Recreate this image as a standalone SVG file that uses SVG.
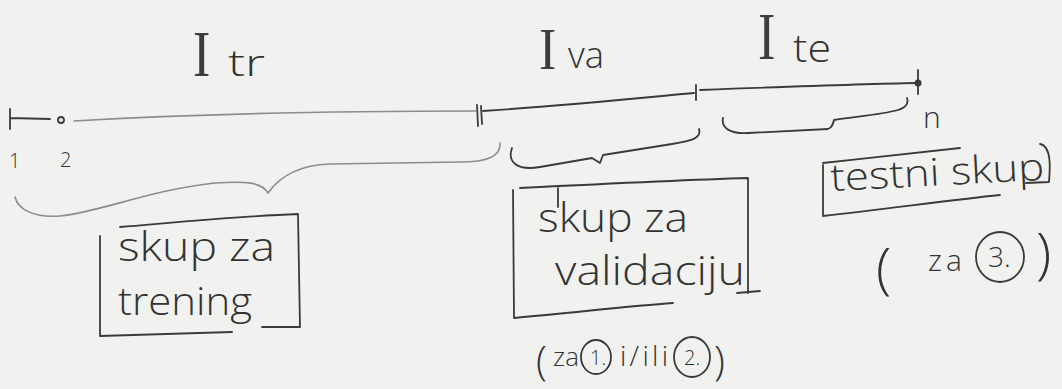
<svg xmlns="http://www.w3.org/2000/svg" width="1062" height="389" viewBox="0 0 1062 389">
  <style>
    .ink { fill: none; stroke: #3a3a3a; stroke-width: 1.8; stroke-linecap: round; stroke-linejoin: round; }
    .pencil { fill: none; stroke: #8c8c8c; stroke-width: 1.6; stroke-linecap: round; stroke-linejoin: round; }
    .hand { font-family: "Open Sans", "Liberation Sans", "DejaVu Sans", sans-serif; font-weight: 300; fill: #333333; }
    .big { font-family: "Liberation Serif", "DejaVu Serif", serif; fill: #3d3d3d; }
  </style>
  <!-- paper -->
  <rect width="1062" height="389" fill="#f1f1ef"/>

  <!-- the index axis 1 .. n split into three intervals -->
  <g id="axis">
    <path class="ink" d="M10,109 L10,129 M10,118 L50,119"/>
    <circle cx="61" cy="120" r="3" class="ink"/>
    <path class="pencil" d="M74,121 C160,116 300,111 476,111"/>
    <path class="ink" d="M477,105 L478,126 M481,106 L482,124"/>
    <path class="ink" d="M483,111 C560,106 640,98 694,93"/>
    <path class="ink" d="M696,85 L696,100"/>
    <path class="ink" d="M700,90 C780,87 860,84 916,83"/>
    <path class="ink" d="M918,70 L918,94"/>
    <circle cx="918" cy="83" r="3.5" fill="#3a3a3a"/>
    <text class="hand" x="9" y="168" font-size="20">1</text>
    <text class="hand" x="60" y="167" font-size="20">2</text>
    <text class="hand" x="923" y="128" font-size="30" textLength="32">n</text>
  </g>

  <!-- interval names above the axis -->
  <g id="interval-labels">
    <text class="big" transform="translate(193,76) scale(1.3,1.65)" font-size="40">I</text>
    <text class="hand" x="228" y="76" font-size="36" textLength="37" lengthAdjust="spacingAndGlyphs">tr</text>
    <text class="big" transform="translate(539,69) scale(1.3,1.5)" font-size="40">I</text>
    <text class="hand" x="568" y="68" font-size="36" textLength="36" lengthAdjust="spacingAndGlyphs">va</text>
    <text class="big" transform="translate(758,59) scale(1.3,1.7)" font-size="40">I</text>
    <text class="hand" x="793" y="62" font-size="38" textLength="38" lengthAdjust="spacingAndGlyphs">te</text>
  </g>

  <!-- braces grouping each interval -->
  <g id="braces">
    <path class="pencil" d="M500,143 C501,157 486,162 460,162 L330,164 C300,165 280,176 268,193 C262,182 245,181 215,183 C150,190 100,212 60,216 C35,218 18,210 15,197"/>
    <path class="ink" d="M512,148 C507,162 517,171 540,167 L592,158 L600,163 L603,155 L672,144 C690,141 702,139 699,129"/>
    <path class="ink" d="M723,118 C721,128 730,134 748,133 L828,129 C832,128 833,124 834,120 C850,117 880,115 898,110 C905,108 909,104 907,98"/>
  </g>

  <!-- training set -->
  <g id="train-set">
    <path class="ink" d="M100,236 L100,336 C160,334 200,333 232,332 M262,327 L300,327 L298,214 C240,216 180,222 120,227"/>
    <text class="hand" x="118" y="261" font-size="40" textLength="157" lengthAdjust="spacingAndGlyphs">skup za</text>
    <text class="hand" x="118" y="315" font-size="38" textLength="134" lengthAdjust="spacingAndGlyphs">trening</text>
  </g>

  <!-- validation set -->
  <g id="val-set">
    <path class="ink" d="M513,190 L514,318 C580,312 630,306 673,303 M737,293 L760,291 M748,293 L748,178 C680,180 600,184 520,188 M558,188 L558,207"/>
    <text class="hand" x="538" y="232" font-size="40" textLength="150" lengthAdjust="spacingAndGlyphs">skup za</text>
    <text class="hand" x="555" y="285" font-size="40" textLength="190" lengthAdjust="spacingAndGlyphs">validaciju</text>
    <text class="hand" x="536" y="375" font-size="40">(</text>
    <text class="hand" x="553" y="366" font-size="26" textLength="26">za</text>
    <ellipse cx="596" cy="357" rx="15" ry="17" class="ink"/>
    <text class="hand" x="590" y="365" font-size="20">1.</text>
    <text class="hand" x="620" y="366" font-size="28" textLength="48">i/ili</text>
    <ellipse cx="692" cy="357" rx="18" ry="20" class="ink"/>
    <text class="hand" x="684" y="365" font-size="20">2.</text>
    <text class="hand" x="714" y="375" font-size="40">)</text>
  </g>

  <!-- test set -->
  <g id="test-set">
    <path class="ink" d="M823,163 C870,158 920,152 960,148 M823,165 L823,216 C880,210 950,200 1000,195 M1040,144 C1052,146 1050,170 1049,182 L1026,183"/>
    <text class="hand" x="831" y="191" font-size="38" textLength="214" lengthAdjust="spacingAndGlyphs" transform="rotate(-3 831 191)">testni skup</text>
    <text class="hand" x="876" y="288" font-size="56">(</text>
    <text class="hand" x="928" y="271" font-size="30" textLength="34">za</text>
    <ellipse cx="1000" cy="257" rx="24" ry="25" class="ink"/>
    <text class="hand" x="988" y="267" font-size="28">3.</text>
    <text class="hand" x="1036" y="273" font-size="56">)</text>
  </g>
</svg>
